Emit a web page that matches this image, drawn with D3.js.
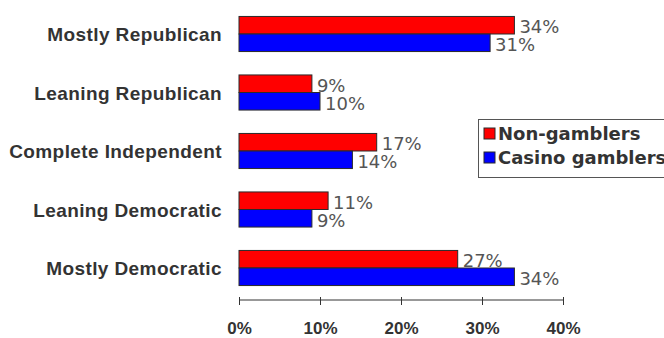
<!DOCTYPE html>
<html>
<head>
<meta charset="utf-8">
<script src="https://cdn.jsdelivr.net/npm/d3@7"></script>
<style>
  html, body { margin: 0; padding: 0; background: #fff; overflow: hidden; }
</style>
</head>
<body>
<div id="chart"></div>
<script>
const categories = ['Mostly Republican', 'Leaning Republican', 'Complete Independent', 'Leaning Democratic', 'Mostly Democratic'];
const seriesNames = ['Non-gamblers', 'Casino gamblers'];
const nonGamblers = [34, 9, 17, 11, 27];
const casinoGamblers = [31, 10, 14, 9, 34];
const xTicks = [0, 10, 20, 30, 40];

const colors = { 'Non-gamblers': '#ff0000', 'Casino gamblers': '#0000ff' };

const chartW = 664, chartH = 338;
const plot = { left: 239, right: 563, top: 4.75, bottom: 297.25, axisY: 300 };

const svg = d3.select('#chart').append('svg')
    .attr('width', chartW)
    .attr('height', chartH);

const x = d3.scaleLinear().domain([0, 40]).range([plot.left, plot.right]);
const y = d3.scaleBand().domain(categories).range([plot.top, plot.bottom]).paddingInner(0.4).paddingOuter(0.2);
const ySub = d3.scaleBand().domain(seriesNames).range([0, y.bandwidth()]);

const rows = categories.map((c, i) => ({
    cat: c,
    vals: [
        { name: 'Non-gamblers', value: nonGamblers[i] },
        { name: 'Casino gamblers', value: casinoGamblers[i] }
    ]
}));

// bars
const groups = svg.append('g').selectAll('g')
    .data(rows)
    .enter().append('g')
    .attr('transform', d => `translate(0,${y(d.cat)})`);

groups.selectAll('rect')
    .data(d => d.vals)
    .enter().append('rect')
    .attr('x', x(0))
    .attr('y', d => ySub(d.name))
    .attr('width', d => x(d.value) - x(0))
    .attr('height', ySub.bandwidth())
    .attr('fill', d => colors[d.name])
    .attr('stroke', '#2a2a2a')
    .attr('stroke-width', 1);

// value labels
groups.selectAll('text')
    .data(d => d.vals)
    .enter().append('text')
    .attr('x', d => x(d.value) + 5)
    .attr('y', d => ySub(d.name) + ySub.bandwidth() - 0.5)
    .attr('fill', '#555')
    .style('font-family', 'DejaVu Sans')
    .style('font-size', '18px')
    .text(d => d.value + '%');

// category labels
svg.append('g').selectAll('text')
    .data(categories)
    .enter().append('text')
    .attr('x', 222)
    .attr('y', d => y(d) + y.bandwidth() / 2 + 7)
    .attr('text-anchor', 'end')
    .attr('fill', '#333')
    .style('font-family', 'Liberation Sans, Arial')
    .style('font-weight', 'bold')
    .style('font-size', '19px')
    .style('letter-spacing', '0.4px')
    .text(d => d);

// x axis
const xAxis = d3.axisBottom(x)
    .tickValues(xTicks)
    .tickSize(5)
    .tickPadding(17)
    .tickFormat(d => d + '%');

svg.append('g')
    .attr('transform', `translate(0,${plot.axisY})`)
    .call(xAxis)
    .call(g => g.select('.domain').attr('stroke', '#333').attr('d', `M${plot.left},0H${plot.right}`))
    .call(g => g.selectAll('.tick line').attr('stroke', '#333').attr('y1', -3))
    .call(g => g.selectAll('.tick text')
        .attr('fill', '#333')
        .style('font-family', 'Liberation Sans, Arial')
        .style('font-weight', 'bold')
        .style('font-size', '17px'));

// legend
const legend = svg.append('g');
legend.append('rect')
    .attr('x', 478.5)
    .attr('y', 119.5)
    .attr('width', 200)
    .attr('height', 58)
    .attr('fill', '#fff')
    .attr('stroke', '#555');

const items = legend.selectAll('g.item')
    .data(seriesNames)
    .enter().append('g')
    .attr('class', 'item')
    .attr('transform', (d, i) => `translate(484,${128 + i * 24})`);

items.append('rect')
    .attr('width', 11)
    .attr('height', 11)
    .attr('fill', d => colors[d])
    .attr('stroke', '#2a2a2a');

items.append('text')
    .attr('x', 14)
    .attr('y', 12)
    .attr('fill', '#333')
    .style('font-family', 'DejaVu Sans')
    .style('font-weight', 'bold')
    .style('font-size', '18px')
    .text(d => d);
</script>
</body>
</html>
